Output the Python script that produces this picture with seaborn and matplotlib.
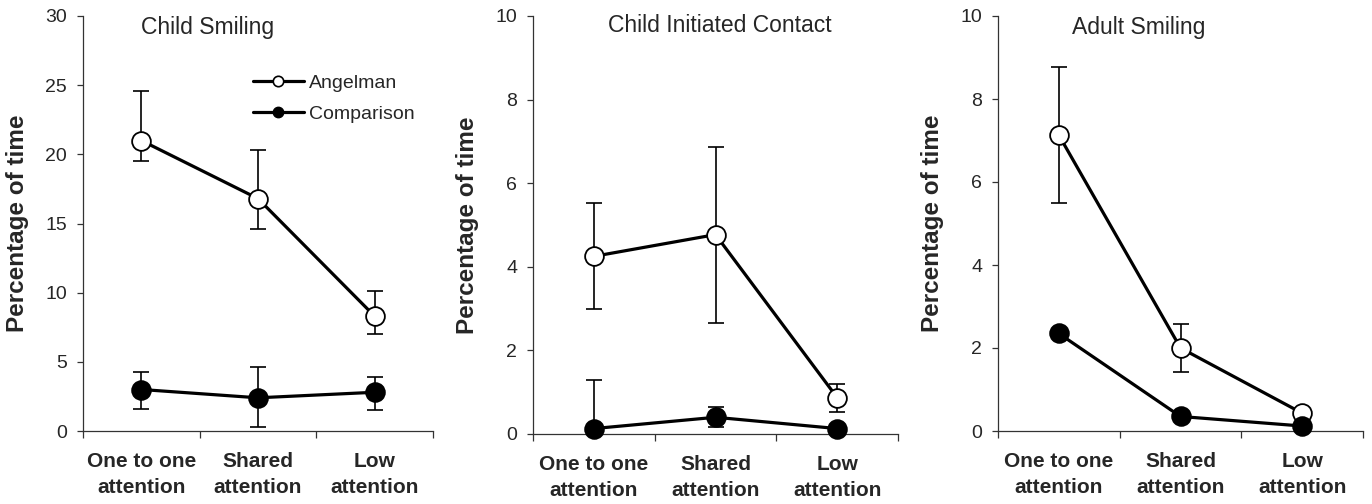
import matplotlib
matplotlib.use("Agg")
import matplotlib.pyplot as plt
from matplotlib.lines import Line2D
import seaborn as sns
import pandas as pd
import numpy as np

sns.set_style("ticks")
plt.rcParams['font.family'] = ['Liberation Sans', 'DejaVu Sans']

# ---------------- data ----------------
categories = ["One to one\nattention", "Shared\nattention", "Low\nattention"]
titles = ["Child Smiling", "Child Initiated Contact", "Adult Smiling"]
groups = ["Angelman", "Comparison"]

# Child Smiling
cs_ang = [21.0, 16.8, 8.3]
cs_ang_hi = [24.6, 20.3, 10.1]
cs_ang_lo = [19.5, 14.6, 7.0]
cs_comp = [3.0, 2.4, 2.8]
cs_comp_hi = [4.3, 4.6, 3.9]
cs_comp_lo = [1.6, 0.3, 1.5]

# Child Initiated Contact
cic_ang = [4.25, 4.77, 0.87]
cic_ang_hi = [5.52, 6.87, 1.2]
cic_ang_lo = [3.0, 2.65, 0.52]
cic_comp = [0.13, 0.40, 0.13]
cic_comp_hi = [1.3, 0.65, 0.13]
cic_comp_lo = [0.0, 0.17, 0.13]

# Adult Smiling
as_ang = [7.13, 2.0, 0.43]
as_ang_hi = [8.78, 2.57, 0.43]
as_ang_lo = [5.5, 1.42, 0.43]
as_comp = [2.35, 0.35, 0.12]
as_comp_hi = [2.35, 0.35, 0.12]
as_comp_lo = [2.35, 0.35, 0.12]

y_max = [30, 10, 10]
y_step = [5, 2, 2]

panels = [
    (cs_ang, cs_ang_lo, cs_ang_hi, cs_comp, cs_comp_lo, cs_comp_hi),
    (cic_ang, cic_ang_lo, cic_ang_hi, cic_comp, cic_comp_lo, cic_comp_hi),
    (as_ang, as_ang_lo, as_ang_hi, as_comp, as_comp_lo, as_comp_hi),
]

# ---------------- layout ----------------
fig = plt.figure(figsize=(13.72, 5.04), dpi=100)
W, H = 1372, 504
boxes = [(83, 433, 16, 431), (533, 898, 16, 434), (998, 1363, 16, 431)]
title_pos = [(0.357, 0.972), (0.511, 0.978), (0.386, 0.972)]

for i, (box, data) in enumerate(zip(boxes, panels)):
    l, r, t, b = box
    ax = fig.add_axes([l / W, (H - b) / H, (r - l) / W, (b - t) / H])
    ang, ang_lo, ang_hi, comp, comp_lo, comp_hi = data
    pos = np.arange(len(categories)) + 0.5

    for vals, lo, hi, face, z in [(ang, ang_lo, ang_hi, "white", 4),
                                  (comp, comp_lo, comp_hi, "black", 6)]:
        vals = np.array(vals)
        lo = np.array(lo)
        hi = np.array(hi)
        ax.errorbar(pos, vals, yerr=[vals - lo, hi - vals], fmt="none",
                    ecolor="black", elinewidth=1.2, capsize=5.5, capthick=1.2,
                    zorder=z - 1, clip_on=False)
        df = pd.DataFrame({"pos": pos, "value": vals})
        sns.lineplot(data=df, x="pos", y="value", ax=ax, color="black",
                     linewidth=2.3, marker="o", markersize=13.5,
                     markerfacecolor=face, markeredgecolor="black",
                     markeredgewidth=1.3, zorder=z, clip_on=False,
                     legend=False)

    ax.set_xlim(0, 3)
    ax.set_ylim(0, y_max[i])
    ax.set_yticks(np.arange(0, y_max[i] + 0.01, y_step[i]))
    ax.set_xticks([0, 1, 2, 3])
    ax.set_xticklabels([])
    ax.set_xticks(pos, minor=True)
    ax.set_xticklabels(categories, minor=True, fontsize=15, fontweight="bold",
                       linespacing=1.5)
    ax.tick_params(axis="x", which="minor", length=0, pad=15)
    ax.tick_params(axis="x", which="major", length=5, width=0.9, color="#333333")
    ax.tick_params(axis="y", length=4.5, width=0.9, color="#333333",
                   labelsize=14, pad=7)
    for s in ["top", "right"]:
        ax.spines[s].set_visible(False)
    for s in ["left", "bottom"]:
        ax.spines[s].set_linewidth(0.9)
        ax.spines[s].set_color("#333333")
    ax.set_xlabel("")
    ax.set_ylabel("Percentage of time", fontsize=17.5, fontweight="bold",
                  labelpad=12)
    ax.text(title_pos[i][0], title_pos[i][1], titles[i], transform=ax.transAxes,
            ha="center", va="center", fontsize=16.5)

    if i == 0:
        handles = [
            Line2D([], [], color="black", linewidth=2.3, marker="o",
                   markersize=7.5, markerfacecolor="white",
                   markeredgecolor="black", markeredgewidth=1.2),
            Line2D([], [], color="black", linewidth=2.3, marker="o",
                   markersize=7.5, markerfacecolor="black",
                   markeredgecolor="black"),
        ]
        ax.legend(handles, groups, loc="upper left",
                  bbox_to_anchor=(0.486, 0.86), frameon=False,
                  fontsize=14, handlelength=2.6, handletextpad=0.25,
                  labelspacing=0.68, borderpad=0, borderaxespad=0)

fig.savefig("out.png", dpi=100)
